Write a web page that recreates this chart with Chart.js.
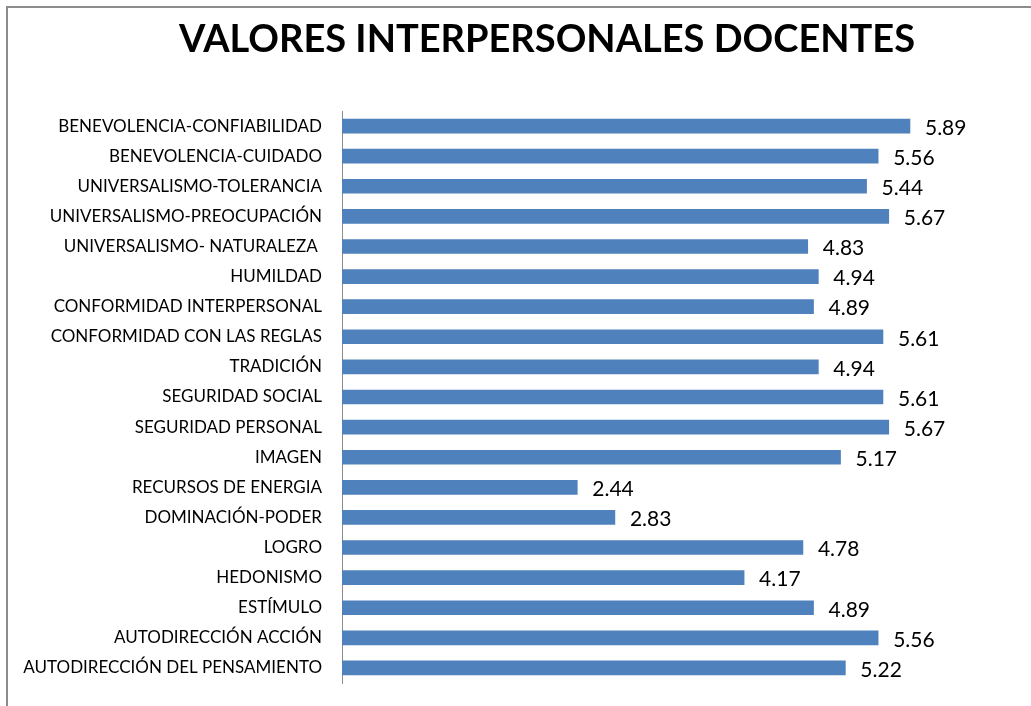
<!DOCTYPE html>
<html>
<head>
<meta charset="utf-8">
<script src="https://cdn.jsdelivr.net/npm/chart.js@4/dist/chart.umd.min.js"></script>
<style>
  html, body { margin: 0; padding: 0; background: #fff; overflow: hidden; }
  #frame { position: absolute; left: 6px; top: 6px; width: 1040px; height: 720px; border: 2px solid #8c8c8c; }
  #wrap { position: absolute; left: 0; top: 0; width: 1031px; height: 706px; }
  #title { position: absolute; left: 0; top: 18px; width: 1094px; text-align: center;
           font: bold 38px/38px Lato, "Open Sans", sans-serif; color: #000; white-space: nowrap; }
</style>
</head>
<body>
<div id="frame"></div>
<div id="wrap"><canvas id="myChart" width="1031" height="706"></canvas></div>
<div id="title"></div>
<script>
const categories = [
  'BENEVOLENCIA-CONFIABILIDAD',
  'BENEVOLENCIA-CUIDADO',
  'UNIVERSALISMO-TOLERANCIA',
  'UNIVERSALISMO-PREOCUPACIÓN',
  'UNIVERSALISMO- NATURALEZA ',
  'HUMILDAD',
  'CONFORMIDAD INTERPERSONAL',
  'CONFORMIDAD CON LAS REGLAS',
  'TRADICIÓN',
  'SEGURIDAD SOCIAL',
  'SEGURIDAD PERSONAL',
  'IMAGEN',
  'RECURSOS DE ENERGIA',
  'DOMINACIÓN-PODER',
  'LOGRO',
  'HEDONISMO',
  'ESTÍMULO',
  'AUTODIRECCIÓN ACCIÓN',
  'AUTODIRECCIÓN DEL PENSAMIENTO'
];
const values = [5.89, 5.56, 5.44, 5.67, 4.83, 4.94, 4.89, 5.61, 4.94, 5.61, 5.67, 5.17, 2.44, 2.83, 4.78, 4.17, 4.89, 5.56, 5.22];
const chartTitle = 'VALORES INTERPERSONALES DOCENTES';

document.getElementById('title').textContent = chartTitle;

// etiquetas de valor al final de cada barra
const valueLabels = {
  id: 'valueLabels',
  afterDatasetsDraw(chart) {
    const ctx = chart.ctx;
    const meta = chart.getDatasetMeta(0);
    ctx.save();
    ctx.font = '21px Lato, "Open Sans", sans-serif';
    ctx.fillStyle = '#000';
    ctx.textAlign = 'left';
    ctx.textBaseline = 'middle';
    meta.data.forEach((bar, i) => {
      ctx.fillText(values[i].toFixed(2), bar.x + 15, bar.y + 2);
    });
    ctx.restore();
  }
};

new Chart(document.getElementById('myChart'), {
  type: 'bar',
  data: {
    labels: categories,
    datasets: [{
      data: values,
      backgroundColor: '#4f81bd',
      borderWidth: 0,
      barThickness: 14
    }]
  },
  options: {
    indexAxis: 'y',
    responsive: false,
    animation: false,
    layout: { padding: { left: 0, right: 14, top: 111, bottom: 23 } },
    plugins: {
      legend: { display: false },
      tooltip: { enabled: false },
      title: { display: false }
    },
    scales: {
      x: {
        display: false,
        min: 0,
        max: 7
      },
      y: {
        grid: { display: false, drawTicks: false },
        border: { display: true, color: '#8c8c8c', width: 1 },
        ticks: {
          color: '#000',
          padding: 20,
          font: { family: 'Lato, "Open Sans", sans-serif', size: 17 }
        },
        afterFit(scale) {
          scale.width = 342;
          scale.paddingTop = 0;
          scale.paddingBottom = 0;
        }
      }
    }
  },
  plugins: [valueLabels]
});
</script>
</body>
</html>
